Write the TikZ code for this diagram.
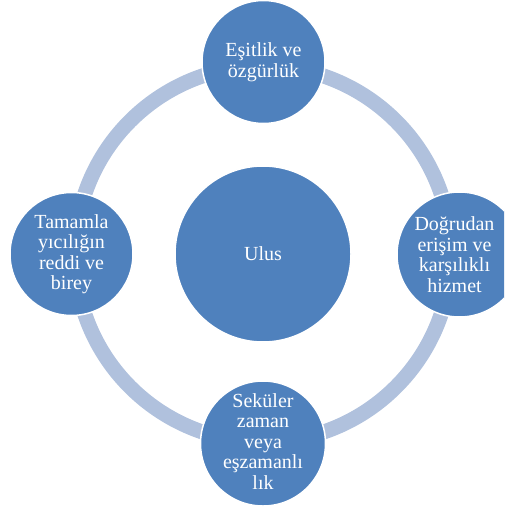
\documentclass[tikz,border=0pt]{standalone}
\usepackage{fontspec}
\setmainfont{Liberation Serif}
\definecolor{nodeblue}{RGB}{79,129,189}
\definecolor{ringblue}{RGB}{176,193,221}
\begin{document}
\begin{tikzpicture}[x=1pt,y=-1pt,
  bubble/.style={circle, fill=nodeblue, draw=white, line width=1.5pt, inner sep=0pt},
  lbl/.style={text=white, align=center, font=\fontsize{20}{20.5}\selectfont, inner sep=0pt}]
\useasboundingbox (0,0) rectangle (504,513);
\clip (0,0) rectangle (504,513);
\coordinate (ringc) at (263,254);
\draw[ringblue, line width=15pt] (ringc) circle[radius=188];
\node[bubble, minimum size=176] (center) at (263,254) {};
\node[lbl] (centertext) at (center.center) {Ulus};
\node[bubble, minimum size=123] (top) at (263.5,62) {};
\node[lbl] (toptext) at (top.center) {Eşitlik ve\\özgürlük};
\node[bubble, minimum size=123] (left) at (71.5,254) {};
\node[lbl] (lefttext) at (left.center) {Tamamla\\yıcılığın\\reddi ve\\birey};
\node[bubble, minimum size=125] (right) at (459.5,254.5) {};
\node[lbl] (righttext) at ([xshift=-5]right.center) {Doğrudan\\erişim ve\\karşılıklı\\hizmet};
\node[bubble, minimum size=125] (bottom) at (263,443.5) {};
\node[lbl] (bottomtext) at ([yshift=2]bottom.center) {Seküler\\zaman\\veya\\eşzamanlı\\lık};
\end{tikzpicture}
\end{document}
